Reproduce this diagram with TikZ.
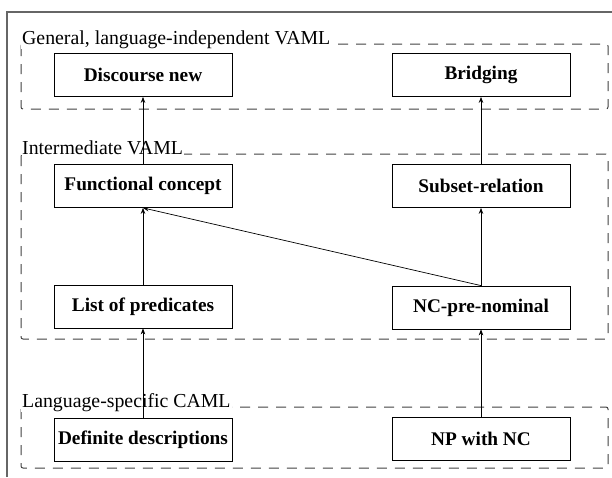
\documentclass[tikz,border=0pt]{standalone}
\usepackage{fontspec}
\setmainfont{Liberation Serif}
\usetikzlibrary{arrows.meta}
\begin{document}
\begin{tikzpicture}[x=1pt,y=-1pt,
  concept/.style={draw=black,line width=0.8pt,minimum width=178pt,minimum height=43pt,inner sep=0pt,font=\fontsize{19.3}{21}\selectfont\bfseries},
  layer/.style={draw=black!75,line width=1pt,dash pattern=on 10pt off 8pt,rounded corners=2pt},
  layerlabel/.style={anchor=base west,fill=white,inner sep=1pt,font=\fontsize{19.8}{21}\selectfont},
  link/.style={draw=black,line width=0.7pt,-{Stealth[length=6pt,width=4.5pt]}}]
\useasboundingbox (0,0) rectangle (612,477);
% outer frame
\draw[black!60,line width=1.2pt] (7,477) -- (7,12) -- (612,12);
% layers
\draw[layer] (21,44) rectangle (608,109);
\draw[layer] (21,154) rectangle (608,339);
\draw[layer] (21,407) rectangle (608,468);
\node[layerlabel] (l1) at (21,44) {General, language-independent VAML};
\node[layerlabel] (l2) at (21,154) {Intermediate VAML};
\node[layerlabel] (l3) at (21,407) {Language-specific CAML};
% concepts
\node[concept] (dn) at (143,75) {Discourse new};
\node[concept] (br) at (481,75) {Bridging};
\node[concept] (fc) at (143,186) {Functional concept};
\node[concept] (sr) at (481,186) {Subset-relation};
\node[concept] (lp) at (143,306.5) {List of predicates};
\node[concept] (nc) at (481,307.5) {NC-pre-nominal};
\node[concept] (dd) at (143,439.5) {Definite descriptions};
\node[concept] (np) at (481,439) {NP with NC};
% links
\draw[link] (fc.north) -- (dn.south);
\draw[link] (sr.north) -- (br.south);
\draw[link] (lp.north) -- (fc.south);
\draw[link] (nc.north) -- (fc.south);
\draw[link] (nc.north) -- (sr.south);
\draw[link] (dd.north) -- (lp.south);
\draw[link] (np.north) -- (nc.south);
\end{tikzpicture}
\end{document}
